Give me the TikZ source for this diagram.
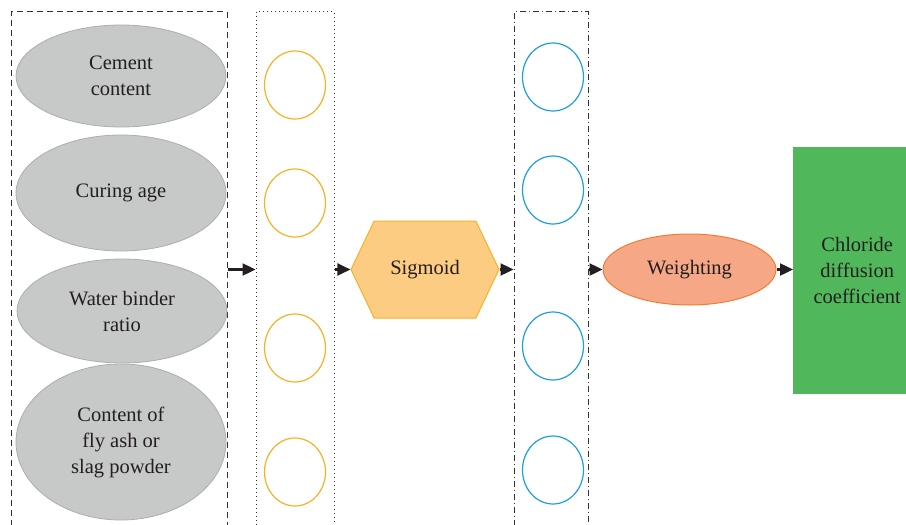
\documentclass[tikz,border=0pt]{standalone}
\usepackage{fontspec}
\setmainfont{Liberation Serif}
\usetikzlibrary{shapes.geometric,shapes.symbols,arrows.meta}
\definecolor{inkgray}{RGB}{35,31,32}
\definecolor{framegray}{RGB}{50,50,50}
\definecolor{ellfill}{RGB}{199,200,200}
\definecolor{elldraw}{RGB}{172,174,175}
\definecolor{ringorange}{RGB}{246,178,36}
\definecolor{ringblue}{RGB}{30,158,222}
\definecolor{sigfill}{RGB}{251,204,130}
\definecolor{sigdraw}{RGB}{245,178,40}
\definecolor{wfill}{RGB}{245,167,134}
\definecolor{wdraw}{RGB}{240,125,50}
\definecolor{resgreen}{RGB}{80,184,90}

\begin{document}
\begin{tikzpicture}[x=1pt,y=-1pt,
  every node/.style={text=inkgray,font=\fontsize{20.5}{26}\selectfont,align=center},
  layer/.style={draw=framegray,line width=1pt,minimum height=540pt,anchor=north,inner sep=0pt},
  factor/.style={ellipse,fill=ellfill,draw=elldraw,line width=.8pt,minimum width=210pt,inner sep=0pt},
  neuron/.style={ellipse,line width=1.2pt,minimum width=61pt,minimum height=68pt,inner sep=0pt},
  link/.style={-{Triangle[length=13pt,width=12pt]},line width=2.4pt,draw=inkgray}]
\useasboundingbox (0,0) rectangle (906,525);

% layers (open at the bottom)
\node[layer,dash pattern=on 6pt off 4pt,minimum width=216pt] (inp) at (119,11) {};
\node[layer,dash pattern=on 1pt off 3pt,minimum width=78pt] (hid) at (295,11) {};
\node[layer,dash pattern=on 6pt off 3pt on 1pt off 3pt,minimum width=74pt] (out) at (551,11) {};

% input factors
\node[factor,minimum height=102pt] (cem) at (121,76) {Cement\\content};
\node[factor,minimum height=116pt] (cur) at (121,193) {Curing age};
\node[factor,minimum height=104pt] (wbr) at (122,311) {Water binder\\ratio};
\node[factor,minimum height=156pt] (fly) at (121,442) {Content of\\fly ash or\\slag powder};

% hidden neurons
\node[neuron,draw=ringorange] (h1) at (295,85) {};
\node[neuron,draw=ringorange] (h2) at (295,203) {};
\node[neuron,draw=ringorange] (h3) at (295,348) {};
\node[neuron,draw=ringorange] (h4) at (295,472) {};

% output neurons
\node[neuron,draw=ringblue] (o1) at (553,77) {};
\node[neuron,draw=ringblue] (o2) at (553,190) {};
\node[neuron,draw=ringblue] (o3) at (553,346) {};
\node[neuron,draw=ringblue] (o4) at (553,470) {};

\node[signal,signal to=west and east,signal pointer angle=129,fill=sigfill,draw=sigdraw,
  line width=1pt,minimum width=148pt,minimum height=97pt,inner sep=0pt] (sig) at (425,269.5) {Sigmoid};
\node[ellipse,fill=wfill,draw=wdraw,line width=1pt,minimum width=173pt,minimum height=71pt,
  inner sep=0pt] (wgt) at (689.5,269.5) {Weighting};
\node[fill=resgreen,minimum width=128pt,minimum height=247pt,inner sep=0pt,anchor=west]
  (dc) at (793,270.5) {Chloride\\diffusion\\coefficient};

\draw[link] (inp.east |- sig) -- (hid.west |- sig);
\draw[link] (hid.east |- sig) -- (sig.west);
\draw[link] (sig.east) -- (out.west |- sig);
\draw[link] (out.east |- sig) -- (wgt.west);
\draw[link] (wgt.east) -- (dc.west |- wgt);
\end{tikzpicture}
\end{document}
